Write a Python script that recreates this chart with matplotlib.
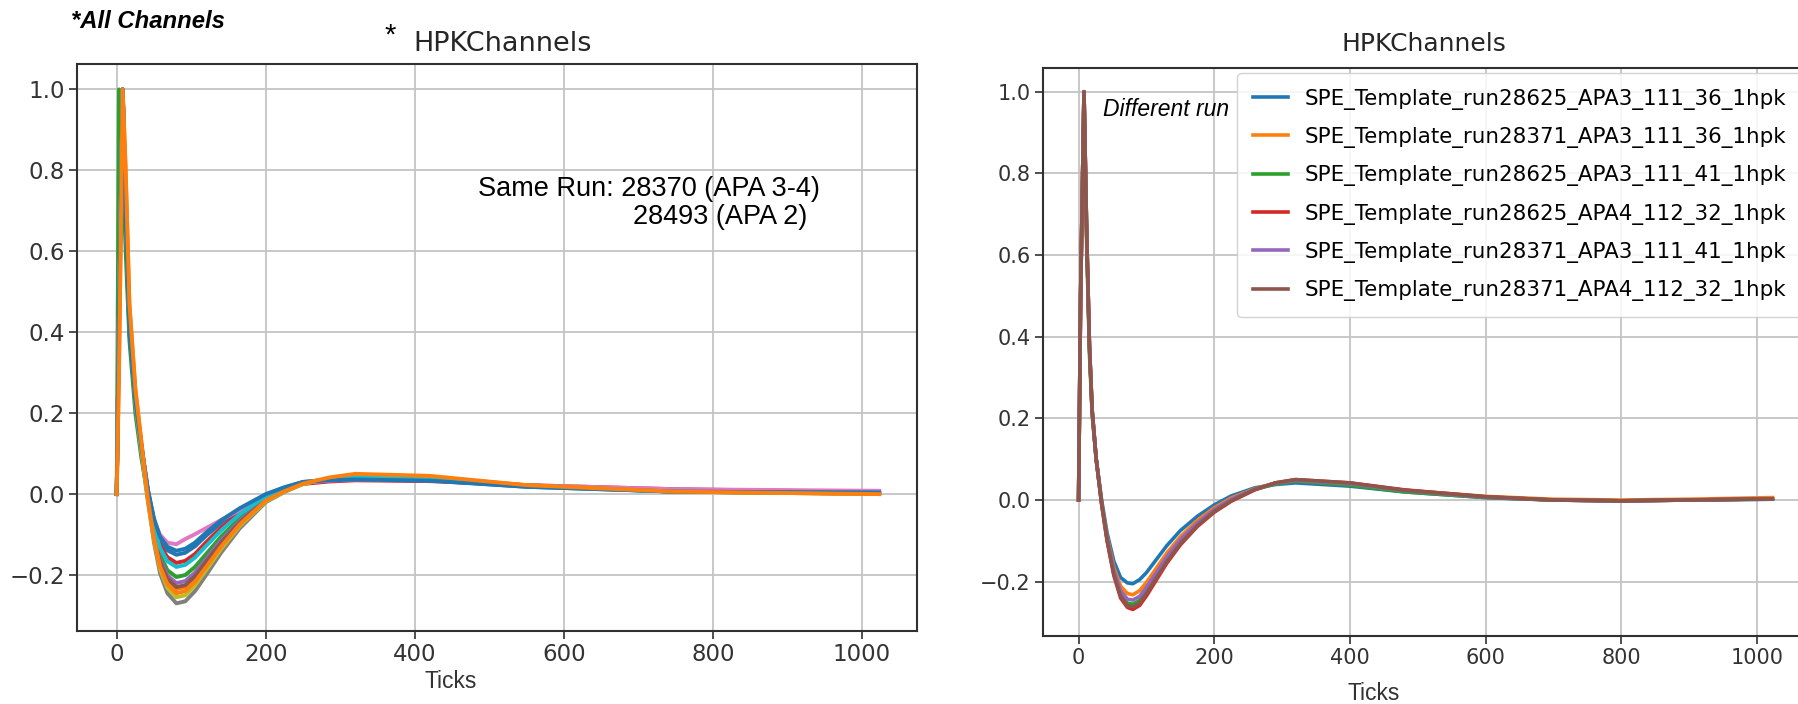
import matplotlib
matplotlib.use("Agg")
import matplotlib.pyplot as plt

# ---------------- data ----------------
XL = [0, 3, 8, 12, 17, 25, 33, 42, 50, 58, 68, 80, 92, 105, 120, 140, 165, 200, 225, 250, 285, 320, 420, 550, 750, 1023]

L01 = [0, 0.40, 1.00, 0.68, 0.40, 0.23, 0.12, 0.008, -0.065, -0.112, -0.139, -0.150, -0.145, -0.129, -0.103, -0.071, -0.039, -0.002, 0.016, 0.030, 0.036, 0.039, 0.034, 0.018, 0.006, 0.004]
L02 = [0, 0.30, 1.00, 0.80, 0.47, 0.26, 0.13, -0.012, -0.104, -0.171, -0.214, -0.235, -0.230, -0.208, -0.172, -0.123, -0.072, -0.015, 0.007, 0.026, 0.038, 0.045, 0.040, 0.021, 0.006, 0.001]
L03 = [0, 1.00, 0.80, 0.60, 0.38, 0.20, 0.09, -0.005, -0.090, -0.150, -0.188, -0.205, -0.200, -0.180, -0.148, -0.105, -0.060, -0.010, 0.011, 0.028, 0.037, 0.043, 0.038, 0.020, 0.006, 0.002]
L04 = [0, 0.45, 1.00, 0.70, 0.42, 0.24, 0.12, 0.003, -0.074, -0.126, -0.156, -0.170, -0.165, -0.148, -0.119, -0.083, -0.046, -0.005, 0.012, 0.025, 0.031, 0.034, 0.032, 0.022, 0.012, 0.005]
L05 = [0, 0.45, 1.00, 0.70, 0.42, 0.24, 0.12, -0.008, -0.097, -0.160, -0.201, -0.220, -0.215, -0.194, -0.160, -0.114, -0.066, -0.012, 0.009, 0.027, 0.037, 0.044, 0.039, 0.020, 0.006, 0.002]
L06 = [0, 0.45, 1.00, 0.70, 0.42, 0.24, 0.12, -0.011, -0.101, -0.167, -0.209, -0.230, -0.225, -0.203, -0.167, -0.120, -0.070, -0.014, 0.008, 0.026, 0.038, 0.045, 0.040, 0.021, 0.006, 0.001]
L07 = [0, 0.45, 1.00, 0.70, 0.42, 0.24, 0.12, 0.005, -0.065, -0.100, -0.120, -0.124, -0.111, -0.099, -0.084, -0.064, -0.040, -0.005, 0.013, 0.028, 0.033, 0.036, 0.034, 0.022, 0.012, 0.008]
L08 = [0, 0.45, 1.00, 0.72, 0.42, 0.22, 0.10, -0.020, -0.120, -0.195, -0.245, -0.270, -0.265, -0.240, -0.200, -0.145, -0.085, -0.020, 0.005, 0.025, 0.039, 0.047, 0.042, 0.022, 0.006, 0.000]
L09 = [0, 0.45, 1.00, 0.70, 0.42, 0.23, 0.11, -0.017, -0.113, -0.185, -0.232, -0.255, -0.250, -0.226, -0.188, -0.136, -0.079, -0.018, 0.006, 0.025, 0.038, 0.046, 0.041, 0.021, 0.006, 0.000]
L10 = [0, 0.45, 1.00, 0.70, 0.42, 0.24, 0.12, 0.001, -0.079, -0.133, -0.166, -0.180, -0.175, -0.157, -0.128, -0.090, -0.050, -0.006, 0.013, 0.029, 0.036, 0.041, 0.036, 0.019, 0.006, 0.003]
L11 = [0, 0.45, 1.00, 0.68, 0.40, 0.23, 0.12, 0.010, -0.060, -0.105, -0.130, -0.140, -0.135, -0.120, -0.095, -0.065, -0.035, 0.000, 0.017, 0.030, 0.034, 0.036, 0.033, 0.018, 0.006, 0.004]
L12 = [0, 0.30, 1.00, 0.80, 0.47, 0.26, 0.13, -0.014, -0.109, -0.178, -0.223, -0.245, -0.240, -0.217, -0.180, -0.130, -0.075, -0.016, 0.007, 0.026, 0.041, 0.050, 0.045, 0.022, 0.006, 0.000]

XR = [0, 3, 8, 12, 16, 20, 26, 34, 42, 52, 62, 72, 80, 90, 100, 115, 130, 150, 175, 200, 225, 260, 290, 320, 400, 480, 600, 700, 800, 900, 1023]

R_labels = ["SPE_Template_run28625_APA3_111_36_1hpk",
            "SPE_Template_run28371_APA3_111_36_1hpk",
            "SPE_Template_run28625_APA3_111_41_1hpk",
            "SPE_Template_run28625_APA4_112_32_1hpk",
            "SPE_Template_run28371_APA3_111_41_1hpk",
            "SPE_Template_run28371_APA4_112_32_1hpk"]
R1 = [0, 0.50, 1.00, 0.65, 0.38, 0.22, 0.10, 0.000, -0.080, -0.150, -0.190, -0.203, -0.205, -0.195, -0.178, -0.145, -0.112, -0.075, -0.040, -0.012, 0.010, 0.030, 0.038, 0.042, 0.034, 0.020, 0.006, 0.000, -0.002, 0.000, 0.002]
R2 = [0, 0.50, 1.00, 0.65, 0.38, 0.22, 0.10, -0.005, -0.089, -0.165, -0.211, -0.229, -0.232, -0.222, -0.202, -0.166, -0.130, -0.090, -0.050, -0.019, 0.005, 0.028, 0.041, 0.047, 0.040, 0.024, 0.009, 0.002, 0.000, 0.002, 0.006]
R3 = [0, 0.50, 1.00, 0.62, 0.36, 0.21, 0.10, -0.008, -0.095, -0.178, -0.231, -0.253, -0.255, -0.246, -0.223, -0.185, -0.146, -0.103, -0.060, -0.026, 0.000, 0.026, 0.039, 0.046, 0.036, 0.020, 0.006, 0.000, -0.002, 0.000, 0.002]
R4 = [0, 0.50, 1.00, 0.65, 0.38, 0.22, 0.10, -0.010, -0.100, -0.185, -0.240, -0.263, -0.268, -0.258, -0.235, -0.195, -0.155, -0.110, -0.065, -0.030, -0.003, 0.025, 0.042, 0.050, 0.042, 0.025, 0.008, 0.000, -0.002, 0.000, 0.003]
R5 = [0, 0.50, 1.00, 0.65, 0.38, 0.22, 0.10, -0.007, -0.092, -0.172, -0.222, -0.243, -0.245, -0.236, -0.214, -0.177, -0.139, -0.097, -0.056, -0.023, 0.002, 0.027, 0.041, 0.048, 0.040, 0.023, 0.007, 0.000, -0.002, 0.000, 0.003]
R6 = [0, 0.50, 1.00, 0.65, 0.38, 0.22, 0.10, -0.009, -0.097, -0.182, -0.235, -0.259, -0.262, -0.252, -0.229, -0.190, -0.151, -0.107, -0.063, -0.028, -0.002, 0.026, 0.042, 0.050, 0.042, 0.024, 0.008, 0.000, -0.002, 0.000, 0.003]

X_TICKS = [0, 200, 400, 600, 800, 1000]
Y_TICKS = [-0.2, 0.0, 0.2, 0.4, 0.6, 0.8, 1.0]

# ---------------- figure ----------------
W, H = 1798, 704
fig = plt.figure(figsize=(W / 100, H / 100), dpi=100)
fig.patch.set_facecolor("white")

def px_axes(l, t, r, b):
    return fig.add_axes([l / W, 1 - b / H, (r - l) / W, (b - t) / H])

def style(ax, fs):
    ax.set_xticks(X_TICKS)
    ax.set_yticks(Y_TICKS)
    ax.grid(True, color="#c4c4c4", lw=1.3)
    ax.set_axisbelow(True)
    for s in ax.spines.values():
        s.set_color("#303030")
        s.set_linewidth(1.5)
    ax.tick_params(labelsize=fs, length=5.5, width=1.2, colors="#303030",
                   labelcolor="#333333")

tab = plt.rcParams["axes.prop_cycle"].by_key()["color"]

# left panel
axL = px_axes(77.3, 64.3, 916.7, 630.7)
left_series = [L01, L02, L03, L04, L05, L06, L07, L08, L09, L10, L11, L12]
for i, ys in enumerate(left_series):
    axL.plot(XL, ys, color=tab[i % 10], lw=2.8, solid_joinstyle="round")
axL.set_xlim(-52.9, 1073.4)
axL.set_ylim(-0.3376, 1.062)
style(axL, 16.5)

# right panel
axR = px_axes(1043.3, 67.7, 1807.0, 635.5)
right_series = [R1, R2, R3, R4, R5, R6]
for i, (ys, lab) in enumerate(zip(right_series, R_labels)):
    axR.plot(XR, ys, color=tab[i], lw=2.6, label=lab, solid_joinstyle="round")
axR.set_xlim(-52.0, 1074.0)
axR.set_ylim(-0.3318, 1.0588)
style(axR, 15)
axR.legend(loc="upper right", fontsize=15.4, handlelength=1.65,
           handletextpad=0.75, labelspacing=0.81, borderpad=0.73,
           borderaxespad=0.25, framealpha=0.85)

# titles and annotations
fig.text(503 / W, 1 - 44 / H, "HPKChannels", ha="center", va="center",
         fontsize=19.5, color="#262626")
fig.text(1424 / W, 1 - 44 / H, "HPKChannels", ha="center", va="center",
         fontsize=18, color="#262626")
fig.text(390 / W, 1 - 36 / H, "*", ha="center", va="center",
         fontsize=21, family="Liberation Sans", color="black")
fig.text(71 / W, 1 - 21 / H, "*All Channels", ha="left", va="center",
         fontsize=17.2, family="Liberation Sans", fontweight="bold",
         fontstyle="italic", color="black")
fig.text(478 / W, 1 - 189 / H, "Same Run: 28370 (APA 3-4)", ha="left",
         va="center", fontsize=19.5, family="Liberation Sans", color="black")
fig.text(633 / W, 1 - 217 / H, "28493 (APA 2)", ha="left", va="center",
         fontsize=19.5, family="Liberation Sans", color="black")
fig.text(1103 / W, 1 - 109 / H, "Different run", ha="left", va="center",
         fontsize=16.5, family="Liberation Sans", fontstyle="italic",
         color="black")
fig.text(451 / W, 1 - 682 / H, "Ticks", ha="center", va="center",
         fontsize=16.5, family="Liberation Sans", color="#333333")
fig.text(1374 / W, 1 - 693 / H, "Ticks", ha="center", va="center",
         fontsize=16.5, family="Liberation Sans", color="#333333")

fig.savefig("out.png", dpi=100, facecolor="white")
